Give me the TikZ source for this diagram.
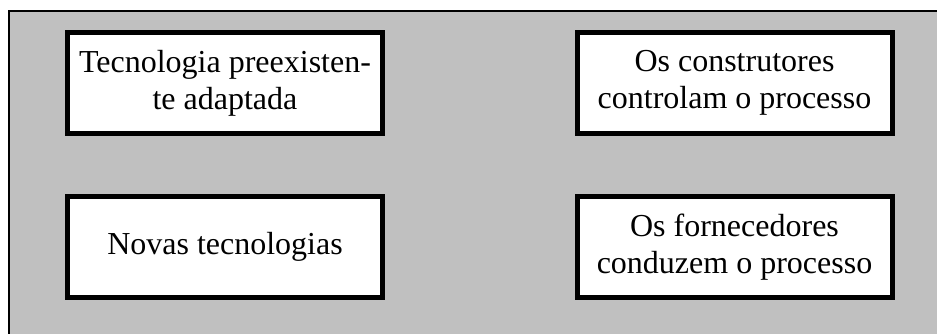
\documentclass[tikz,border=0pt]{standalone}
\usepackage{fontspec}
\setmainfont{Liberation Serif}
\definecolor{bggray}{RGB}{192,192,192}
\tikzset{
  box/.style={draw=black, fill=white, line width=5pt, rectangle,
    minimum width=315pt, minimum height=101.5pt, inner sep=0pt,
    align=center, font=\fontsize{32}{37}\selectfont}
}
\begin{document}
\begin{tikzpicture}[x=1pt,y=-1pt]
\useasboundingbox (0,0) rectangle (937,334);
\begin{scope}
\clip (0,0) rectangle (937,334);
\draw[fill=bggray, line width=2.5pt] (9,11) rectangle (960,360);
\end{scope}
\node[box] (tl) at (225,83.25) {Tecnologia preexisten-\\te adaptada};
\node[box] (tr) at (734.5,83.25) {Os construtores\\controlam o processo};
\node[box] (bl) at (225,246.75) {Novas tecnologias};
\node[box] (br) at (734.5,246.75) {Os fornecedores\\conduzem o processo};
\end{tikzpicture}
\end{document}
